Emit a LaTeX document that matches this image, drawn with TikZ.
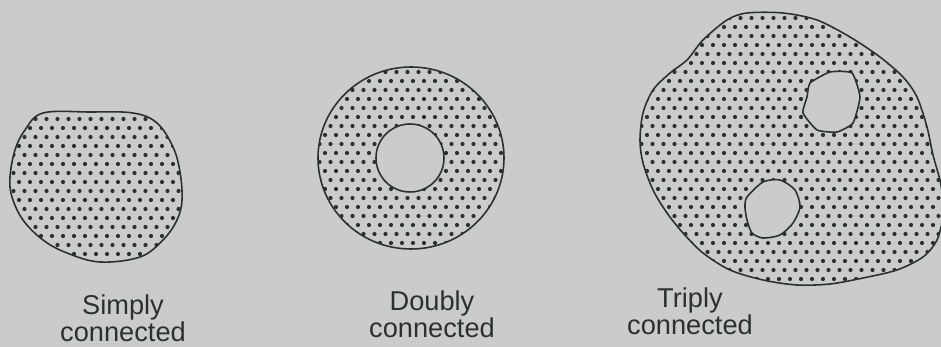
\documentclass[tikz,border=0pt]{standalone}
\usepackage{fontspec}
\setmainfont{Liberation Sans}
\usepackage{tikz}
\usetikzlibrary{positioning,calc}
\definecolor{paper}{RGB}{201,204,203}
\definecolor{ink}{RGB}{45,48,48}

\newcommand{\dotfield}[4]{%
  \foreach \r in {0,...,#4}{
    \foreach \c in {0,...,#3}{
      \fill[dot] ({#1+11*\c+5.5*mod(\r,2)},{#2+9*\r}) circle[radius=2.1];
    }
  }}

\begin{document}
\begin{tikzpicture}[
x=0.02cm, y=-0.02cm,
dot/.style={fill=ink},
outline/.style={draw=ink, line width=0.9pt, line join=round},
hole/.style={outline, fill=paper},
lbl/.style={align=center, inner sep=0pt, text=ink, font=\fontsize{15.5}{14}\selectfont}
]
\fill[paper] (0,0) rectangle (941,347);
\useasboundingbox (0,0) rectangle (941,347);

\path[save path=\regionA] plot[smooth cycle, tension=0.6] coordinates {
  (43,113) (90,112) (133,113) (157,123) (173,147) (180,172) (182,200)
  (177,220) (163,240) (140,257) (100,262) (67,253) (43,240) (23,220)
  (12,197) (10,177) (15,150) (25,130)};
\begin{scope}
\clip[use path=\regionA];
\dotfield{8}{110}{16}{17}
\end{scope}
\draw[outline, use path=\regionA];

\begin{scope}
\clip (411,158) ellipse (93 and 91);
\dotfield{314}{63}{18}{21}
\end{scope}
\draw[outline] (411,158) ellipse (93 and 91);
\draw[hole] (410,158) circle (34);

\path[save path=\regionC] plot[smooth cycle, tension=0.5] coordinates {
  (727,20) (747,13) (783,13) (817,20) (850,37) (880,57) (903,77) (917,97)
  (927,127) (933,155) (941,185) (943,215) (937,240) (923,257) (897,270)
  (863,278) (830,284) (797,285) (763,280) (730,270) (703,253) (683,233)
  (667,213) (653,190) (643,163) (640,140) (643,113) (653,90) (670,73)
  (687,60) (703,40)};
\begin{scope}
\clip[use path=\regionC];
\dotfield{636}{9}{28}{31}
\end{scope}
\draw[outline, use path=\regionC];
\draw[hole] plot[smooth cycle, tension=0.3] coordinates {
  (810,83) (830,72) (852,73) (860,97) (853,123) (837,132) (817,130)
  (803,113) (807,97)};
\draw[hole] plot[smooth cycle, tension=0.45] coordinates {
  (747,197) (763,182) (780,180) (795,190) (800,207) (793,223) (780,235)
  (763,238) (752,233) (747,220) (745,207)};

\node[lbl] (simply) at (123,318) {Simply\\connected};
\node[lbl] (doubly) at (432,314) {Doubly\\connected};
\node[lbl] (triply) at (690,311) {Triply\\connected};
\end{tikzpicture}
\end{document}
